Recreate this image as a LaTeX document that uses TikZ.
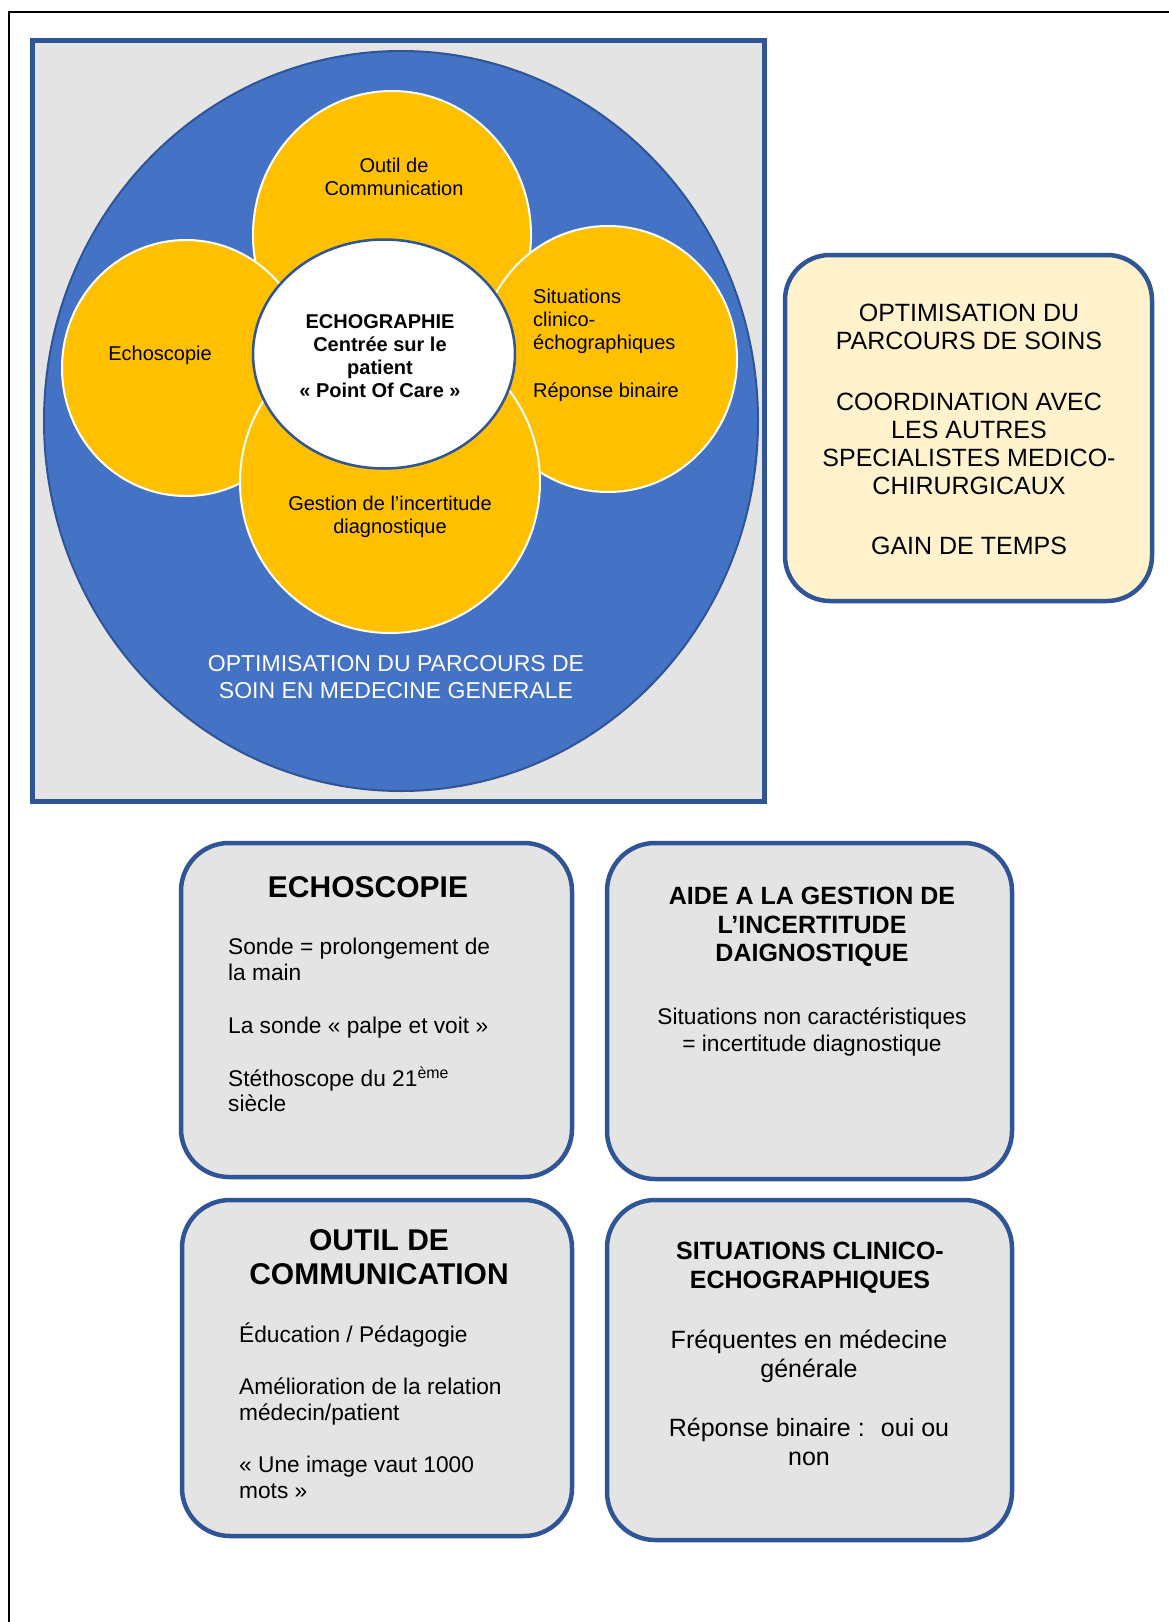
\documentclass[tikz,border=0pt]{standalone}
\usepackage{fontspec}
\setmainfont{Liberation Sans}
\usepackage{tikz}
\usetikzlibrary{shapes.geometric}
\definecolor{edgeblue}{HTML}{2F5597}
\definecolor{discblue}{HTML}{4472C4}
\definecolor{petalyellow}{HTML}{FFC000}
\definecolor{panelgray}{HTML}{E4E4E4}
\definecolor{notecream}{HTML}{FFF2CC}
\tikzset{
	panelstyle/.style={rectangle,draw=edgeblue,line width=5pt,fill=panelgray,inner sep=0pt},
	discstyle/.style={ellipse,draw=edgeblue,line width=2pt,fill=discblue,inner sep=0pt},
	petalstyle/.style={ellipse,draw=white,line width=2pt,fill=petalyellow,inner sep=0pt},
	hubstyle/.style={ellipse,draw=edgeblue,line width=2.5pt,fill=white,inner sep=0pt},
	cardstyle/.style={rectangle,rounded corners=48pt,draw=edgeblue,line width=4.5pt,fill=panelgray,inner sep=0pt},
	notestyle/.style={rectangle,rounded corners=45pt,draw=edgeblue,line width=4.5pt,fill=notecream,inner sep=0pt},
	petaltext/.style={inner sep=0pt,align=center,font=\fontsize{20}{23}\selectfont},
	hubtext/.style={inner sep=0pt,align=center,font=\fontsize{20}{23}\selectfont\bfseries},
	disctext/.style={inner sep=0pt,align=center,text=white,font=\fontsize{23}{27}\selectfont},
	notetext/.style={inner sep=0pt,align=center,font=\fontsize{25}{28}\selectfont},
	cardtitle/.style={inner sep=0pt,align=center,font=\bfseries},
	cardtext/.style={inner sep=0pt}
}
\begin{document}
\begin{tikzpicture}[x=1pt,y=-1pt]
	\useasboundingbox (0,0) rectangle (1169,1622);
	\draw[line width=2pt] (9,1622) -- (9,12) -- (1169,12);
	% schema
	\node[panelstyle,minimum width=732pt,minimum height=761pt] (panel) at (398,420.5) {};
	\node[discstyle,minimum width=714pt,minimum height=740pt] (soin) at (401,421) {};
	\node[petalstyle,minimum width=278pt,minimum height=288pt] (comm) at (392,235) {};
	\node[petalstyle,minimum width=248pt,minimum height=256pt] (scopie) at (186,368) {};
	\node[petalstyle,minimum width=258pt,minimum height=266pt] (situ) at (608,359) {};
	\node[petalstyle,minimum width=300pt,minimum height=302pt] (gestion) at (390,482) {};
	\node[hubstyle,minimum width=262pt,minimum height=229pt] (echo) at (384,354) {};
	\node[petaltext] (commlabel) at (394,177) {Outil de\\Communication};
	\node[petaltext] (scopielabel) at (160,355) {Echoscopie};
	\node[petaltext,align=left] (situlabel) at (606,345) {Situations\\clinico-\\échographiques\\[25pt]Réponse binaire};
	\node[petaltext] (gestionlabel) at (390,517) {Gestion de l’incertitude\\diagnostique};
	\node[hubtext] (echolabel) at (380,356) {ECHOGRAPHIE\\Centrée sur le\\patient\\« Point Of Care »};
	\node[disctext] (soinlabel) at (396,677) {OPTIMISATION DU PARCOURS DE\\SOIN EN MEDECINE GENERALE};
	% encadre
	\node[notestyle,minimum width=367pt,minimum height=346pt] (note) at (968.5,428) {};
	\node[notetext] (notelabel) at (969,429) {OPTIMISATION DU\\PARCOURS DE SOINS\\[33pt]COORDINATION AVEC\\LES AUTRES\\SPECIALISTES MEDICO-\\CHIRURGICAUX\\[32pt]GAIN DE TEMPS};
	% fiches
	\node[cardstyle,minimum width=391pt,minimum height=334pt] (scopiecard) at (376.5,1010) {};
	\node[cardstyle,minimum width=405pt,minimum height=336pt] (gestioncard) at (809.5,1011) {};
	\node[cardstyle,minimum width=390pt,minimum height=336pt] (commcard) at (377,1368) {};
	\node[cardstyle,minimum width=405pt,minimum height=340pt] (situcard) at (809.5,1370) {};
	\node[cardtitle,font=\fontsize{30}{34}\selectfont\bfseries] (scopietitle) at (368,887) {ECHOSCOPIE};
	\node[cardtext,anchor=west,align=left,font=\fontsize{22.7}{25.5}\selectfont] (scopietext) at (228,1025) {Sonde = prolongement de\\la main\\[27.5pt]La sonde « palpe et voit »\\[27.5pt]Stéthoscope du 21\textsuperscript{ème}\\siècle};
	\node[cardtitle,font=\fontsize{25}{28.5}\selectfont\bfseries] (gestiontitle) at (812,927) {AIDE A LA GESTION DE\\L’INCERTITUDE\\DAIGNOSTIQUE};
	\node[cardtext,align=center,font=\fontsize{22.7}{27}\selectfont] (gestiontext) at (812,1032) {Situations non caractéristiques\\= incertitude diagnostique};
	\node[cardtitle,font=\fontsize{30}{34}\selectfont\bfseries] (commtitle) at (379,1257) {OUTIL DE\\COMMUNICATION};
	\node[cardtext,anchor=west,align=left,font=\fontsize{22.7}{26}\selectfont] (commtext) at (239,1411) {Éducation / Pédagogie\\[26pt]Amélioration de la relation\\médecin/patient\\[26pt]« Une image vaut 1000\\mots »};
	\node[cardtitle,font=\fontsize{25}{29}\selectfont\bfseries] (situtitle) at (810,1268) {SITUATIONS CLINICO-\\ECHOGRAPHIQUES};
	\node[cardtext,align=center,font=\fontsize{25}{29}\selectfont] (situtext) at (809,1398) {Fréquentes en médecine\\générale\\[30pt]Réponse binaire :~ oui ou\\non};
\end{tikzpicture}
\end{document}
